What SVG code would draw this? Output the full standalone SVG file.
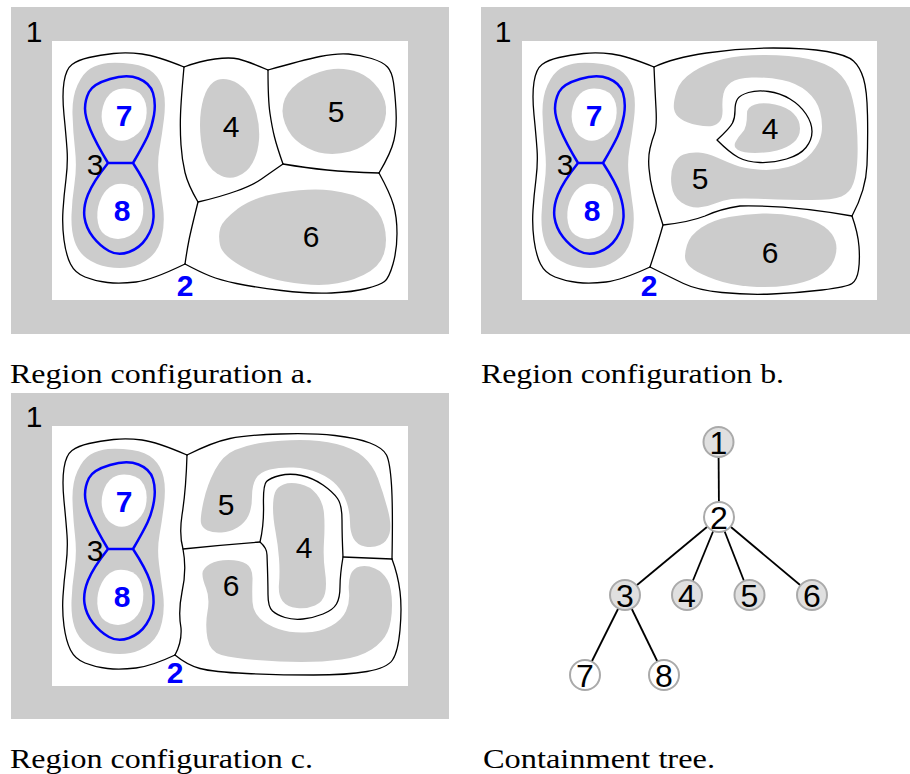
<svg xmlns="http://www.w3.org/2000/svg" width="910" height="774" viewBox="0 0 910 774">
<style>
.frame{fill:#cccccc}
.sheet{fill:#ffffff}
.blob{fill:#cccccc}
.hole{fill:#ffffff}
.edge{fill:none;stroke:#000000;stroke-width:1.3;stroke-linejoin:round;stroke-linecap:round}
.loop{fill:none;stroke:#0000ff;stroke-width:2.5;stroke-linejoin:round}
.num{font-family:"Liberation Sans",Arial,sans-serif;font-size:30px;fill:#000000;text-anchor:middle}
.tnum{font-family:"Liberation Sans",Arial,sans-serif;font-size:32px;fill:#000000;text-anchor:middle}
.bnum{font-family:"Liberation Sans",Arial,sans-serif;font-size:30px;font-weight:bold;fill:#0000ff;text-anchor:middle}
.cap{font-family:"Liberation Serif","Times New Roman",serif;font-size:28px;fill:#000000}
.tnode{stroke:#aaaaaa;stroke-width:2}
.full{fill:#e0e0e0}
.empty{fill:#ffffff}
.tlink{stroke:#000000;stroke-width:1.8}
</style>
<defs>
  <!-- region 3 with its two holes 7 and 8, shared by all three configurations -->
  <g id="cell3">
    <path class="blob" d="M108,63 Q118,62 132,64 Q146,66 153.5,73 Q161,80 163.5,91 Q166,102 164,118.5 Q162,135 159.5,149 Q157,163 159,178 Q161,193 163,207.5 Q165,222 162,236 Q159,250 150,257.5 Q141,265 130.5,267 Q120,269 108,267 Q96,265 87,258.5 Q78,252 74.5,241 Q71,230 71.5,215 Q72,200 74.5,183.5 Q77,167 75,149.5 Q73,132 72.5,114.5 Q72,97 77.5,85 Q83,73 90.5,68.5 Q98,64 108,63 Z"/>
    <path class="hole" d="M113,91.5 Q120,87 130,89 Q140,91 144,99 Q148,107 146,118.5 Q144,130 134,136.5 Q124,143 115.5,139.5 Q107,136 103.5,126.5 Q100,117 103,106.5 Q106,96 113,91.5 Z"/>
    <path class="hole" d="M110,187 Q117,182 127.5,184.5 Q138,187 141.5,197.5 Q145,208 142,219.5 Q139,231 129.5,236 Q120,241 110,237.5 Q100,234 98,223 Q96,212 99.5,202 Q103,192 110,187 Z"/>
    <path class="loop" d="M108,163 Q96,143 90.5,130 Q85,117 85,108.5 Q85,100 89,92 Q93,84 110,79 Q127,74 138.5,78.5 Q150,83 153,93 Q156,103 154,115 Q152,127 147.5,136.5 Q143,146 133,163 L108,163 Q93,182 88,194.5 Q83,207 84.5,217.5 Q86,228 93,237 Q100,246 109,251 Q118,256 129,252 Q140,248 146.5,238 Q153,228 153.5,217.5 Q154,207 150,195 Q146,183 133,163"/>
  </g>
</defs>

<!-- configuration a -->
<g id="config-a">
  <rect class="frame" x="11" y="7" width="438" height="327"/>
  <rect class="sheet" x="52" y="41" width="356" height="259"/>
  <use href="#cell3"/>
  <path class="blob" d="M203.5,98.5 Q207,87 213.5,82 Q220,77 230,80 Q240,83 246.5,91.5 Q253,100 256.5,113.5 Q260,127 259,140 Q258,153 252.5,163 Q247,173 237,176.5 Q227,180 217,173.5 Q207,167 203.5,153.5 Q200,140 200,125 Q200,110 203.5,98.5 Z"/>
  <path class="blob" d="M285,98.5 Q290,87 305,78.5 Q320,70 333.5,69 Q347,68 358.5,72.5 Q370,77 378.5,88.5 Q387,100 386,113.5 Q385,127 374,137.5 Q363,148 350,151.5 Q337,155 325,153.5 Q313,152 301.5,144.5 Q290,137 285,123.5 Q280,110 285,98.5 Z"/>
  <path class="blob" d="M220.5,227.5 Q223,220 238,208.5 Q253,197 281.5,192.5 Q310,188 331.5,190.5 Q353,193 366.5,201.5 Q380,210 384,225 Q388,240 384,253.5 Q380,267 363.5,275 Q347,283 328.5,284.5 Q310,286 285,281.5 Q260,277 241,266 Q222,255 220,245 Q218,235 220.5,227.5 Z"/>
  <path class="edge" d="M184,67 Q157,56 142,54 Q127,52 113.5,53.5 Q100,55 89,57.5 Q78,60 72,64.5 Q66,69 64,82 Q62,95 64,115 Q66,135 67,149 Q68,163 66,179 Q64,195 63,210 Q62,225 64,240 Q66,255 70.5,264 Q75,273 85,277 Q95,281 107.5,282.5 Q120,284 136,282 Q152,280 185,264"/>
  <path class="edge" d="M184,67 Q200,61 215,59 Q230,57 238.5,59 Q247,61 268,70"/>
  <path class="edge" d="M268,70 Q303,60 320,56.5 Q337,53 348.5,54 Q360,55 371.5,58.5 Q383,62 387.5,67 Q392,72 393.5,82.5 Q395,93 396,110 Q397,127 394,140 Q391,153 379,173"/>
  <path class="edge" d="M379,173 Q390,193 393.5,205 Q397,217 397,233.5 Q397,250 393,264 Q389,278 384.5,281.5 Q380,285 366.5,288.5 Q353,292 331.5,293 Q310,294 281.5,290.5 Q253,287 236.5,283.5 Q220,280 210,276 Q200,272 185,264"/>
  <path class="edge" d="M184,67 Q181,100 180.5,115 Q180,130 181,145 Q182,160 185,172.5 Q188,185 198,202 Q191,230 189,240 Q187,250 185,264"/>
  <path class="edge" d="M268,70 Q268,100 270,113.5 Q272,127 274.5,137 Q277,147 283,164"/>
  <path class="edge" d="M283,164 Q307,168 327,170 Q347,172 379,173"/>
  <path class="edge" d="M283,164 Q270,173 261.5,179 Q253,185 236.5,191 Q220,197 198,202"/>
  <text class="num" x="34" y="42">1</text>
  <text class="num" x="95" y="175">3</text>
  <text class="bnum" x="124" y="126">7</text>
  <text class="bnum" x="122" y="221">8</text>
  <text class="bnum" x="185" y="296">2</text>
  <text class="num" x="231" y="137">4</text>
  <text class="num" x="336" y="122">5</text>
  <text class="num" x="311" y="247">6</text>
</g>

<!-- configuration b -->
<g id="config-b">
  <rect class="frame" x="481" y="7" width="429" height="327"/>
  <rect class="sheet" x="522" y="41" width="355" height="259"/>
  <use href="#cell3" transform="translate(470,0)"/>
  <path class="blob" d="M674,109 Q673,103 676.5,91.5 Q680,80 693.5,71.5 Q707,63 723.5,59 Q740,55 765,55 Q790,55 808.5,59 Q827,63 837,71.5 Q847,80 851,93.5 Q855,107 856.5,123.5 Q858,140 857.5,156.5 Q857,173 853.5,183 Q850,193 841.5,196.5 Q833,200 811.5,200 Q790,200 765,199 Q740,198 731.5,199 Q723,200 715,203.5 Q707,207 698.5,207.5 Q690,208 681.5,202.5 Q673,197 671.5,185 Q670,173 673.5,165 Q677,157 683.5,154.5 Q690,152 698.5,152.5 Q707,153 717,157.5 Q727,162 735,165 Q743,168 758,169.5 Q773,171 788,167 Q803,163 811.5,153 Q820,143 821.5,133 Q823,123 820,111.5 Q817,100 807,91.5 Q797,83 782,80 Q767,77 752,77.5 Q737,78 731,82.5 Q725,87 723.5,93.5 Q722,100 722.5,108.5 Q723,117 720,121 Q717,125 712,126 Q707,127 697,125 Q687,123 681,119 Q675,115 674,109 Z"/>
  <path class="blob" d="M747,113.5 Q747,107 755,104.5 Q763,102 775,104.5 Q787,107 793.5,113.5 Q800,120 800,128.5 Q800,137 793.5,142.5 Q787,148 777,150.5 Q767,153 755,153 Q743,153 738,150 Q733,147 735.5,142 Q738,137 741.5,133.5 Q745,130 746,125 Q747,120 747,113.5 Z"/>
  <path class="blob" d="M685.5,260 Q684,255 687,245 Q690,235 701.5,227.5 Q713,220 729,217 Q745,214 762.5,213.5 Q780,213 797.5,216.5 Q815,220 824,226.5 Q833,233 835.5,241.5 Q838,250 834,260 Q830,270 817.5,276.5 Q805,283 787.5,285.5 Q770,288 750,286.5 Q730,285 715,279.5 Q700,274 693.5,269.5 Q687,265 685.5,260 Z"/>
  <path class="edge" d="M654,67 Q627,56 612,54 Q597,52 583.5,53.5 Q570,55 559,57.5 Q548,60 542,64.5 Q536,69 534,82 Q532,95 534,115 Q536,135 537,149 Q538,163 536,179 Q534,195 533,210 Q532,225 534,240 Q536,255 540.5,264 Q545,273 555,277 Q565,281 577.5,282.5 Q590,284 606,282 Q622,280 650,267"/>
  <path class="edge" d="M654,67 Q655,90 656,108.5 Q657,127 654.5,133.5 Q652,140 650,148.5 Q648,157 649,168.5 Q650,180 652.5,190 Q655,200 663,225 Q658,243 650,267"/>
  <path class="edge" d="M654,67 Q673,58 706.5,53 Q740,48 773.5,48 Q807,48 827,51.5 Q847,55 853.5,61 Q860,67 863.5,78.5 Q867,90 867.5,115 Q868,140 867,165 Q866,190 852,216"/>
  <path class="edge" d="M663,225 Q690,222 705,216 Q720,209 740,206 Q790,205 852,216"/>
  <path class="edge" d="M852,216 Q858,233 859,246.5 Q860,260 858.5,270 Q857,280 852,283.5 Q847,287 822,290 Q797,293 772,294 Q747,295 722,292.5 Q697,290 683.5,283.5 Q670,277 650,267"/>
  <path class="edge" d="M717,140 Q730,128 732.5,123 Q735,118 735,110.5 Q735,103 737.5,99 Q740,95 748.5,92.5 Q757,90 768.5,91.5 Q780,93 790,99 Q800,105 806,114 Q812,123 812,131.5 Q812,140 806,147.5 Q800,155 786.5,159 Q773,163 760,162.5 Q747,162 738.5,157.5 Q730,153 717,140 Z"/>
  <text class="num" x="503" y="42">1</text>
  <text class="num" x="565" y="175">3</text>
  <text class="bnum" x="594" y="126">7</text>
  <text class="bnum" x="592" y="221">8</text>
  <text class="bnum" x="649" y="296">2</text>
  <text class="num" x="770" y="139">4</text>
  <text class="num" x="700" y="189">5</text>
  <text class="num" x="770" y="263">6</text>
</g>

<!-- configuration c -->
<g id="config-c">
  <rect class="frame" x="11" y="393" width="438" height="326"/>
  <rect class="sheet" x="52" y="426" width="356" height="260"/>
  <use href="#cell3" transform="translate(0,386)"/>
  <path class="blob" d="M201,523 Q200,518 203.5,501.5 Q207,485 215,470 Q223,455 235,450 Q247,445 263.5,442.5 Q280,440 300,440 Q320,440 336.5,444 Q353,448 363,456.5 Q373,465 378,478.5 Q383,492 387.5,508.5 Q392,525 389.5,533.5 Q387,542 380,545 Q373,548 365,546.5 Q357,545 353.5,538.5 Q350,532 350,522 Q350,512 346.5,502 Q343,492 336.5,485 Q330,478 318.5,473 Q307,468 293.5,467.5 Q280,467 270,469.5 Q260,472 256,478.5 Q252,485 252,496.5 Q252,508 248.5,515.5 Q245,523 237.5,527.5 Q230,532 221.5,532.5 Q213,533 207.5,530.5 Q202,528 201,523 Z"/>
  <path class="blob" d="M202.5,573 Q203,568 210,564 Q217,560 228.5,560 Q240,560 246.5,564 Q253,568 252.5,580 Q252,592 252.5,602 Q253,612 260,618.5 Q267,625 278.5,629 Q290,633 305,632.5 Q320,632 331,626 Q342,620 346,611 Q350,602 349,592 Q348,582 350.5,575 Q353,568 360,566.5 Q367,565 375,568.5 Q383,572 387.5,580 Q392,588 392,605 Q392,622 387.5,632 Q383,642 371.5,649.5 Q360,657 341.5,659.5 Q323,662 301.5,662 Q280,662 256.5,660 Q233,658 221.5,655 Q210,652 207.5,638.5 Q205,625 207.5,611.5 Q210,598 206,588 Q202,578 202.5,573 Z"/>
  <path class="blob" d="M275,492.5 Q277,487 283.5,484.5 Q290,482 300,484 Q310,486 316.5,494 Q323,502 324,513.5 Q325,525 324,541.5 Q323,558 325,571.5 Q327,585 325,593.5 Q323,602 315,605.5 Q307,609 297,608 Q287,607 282.5,601 Q278,595 279,583.5 Q280,572 279,558.5 Q278,545 275.5,531.5 Q273,518 273,508 Q273,498 275,492.5 Z"/>
  <path class="edge" d="M187,455 Q157,442 142,440 Q127,438 113.5,439.5 Q100,441 89,443.5 Q78,446 72,450.5 Q66,455 64,468 Q62,481 64,501 Q66,521 67,535 Q68,549 66,565 Q64,581 63,596 Q62,611 64,626 Q66,641 70.5,650 Q75,659 85,663 Q95,667 107.5,668.5 Q120,670 136,668 Q152,666 175,655"/>
  <path class="edge" d="M187,455 Q186,490 182,515 Q179,535 183,549 Q187,570 182,592 Q178,612 181,628 Q182,642 175,655"/>
  <path class="edge" d="M187,455 Q213,442 230,438.5 Q247,435 280,434 Q313,433 335,435.5 Q357,438 370,443 Q383,448 386.5,455 Q390,462 391.5,485 Q393,508 392,559"/>
  <path class="edge" d="M183,549 Q220,545 260,542"/>
  <path class="edge" d="M260,542 Q264,525 263.5,505 Q263,485 266.5,481.5 Q270,478 280,475.5 Q290,473 301.5,475.5 Q313,478 323,485 Q333,492 337.5,498.5 Q342,505 342,520 Q342,535 343,557 Q340,575 340,586.5 Q340,598 336.5,604 Q333,610 323,614 Q313,618 303,619 Q293,620 285,617.5 Q277,615 272.5,611 Q268,607 268,594.5 Q268,582 267,555 Q267,548 260,542 Z"/>
  <path class="edge" d="M343,557 Q370,558 392,559"/>
  <path class="edge" d="M392,559 Q398,575 400,591.5 Q402,608 400,630 Q398,652 392.5,660 Q387,668 367,671.5 Q347,675 313.5,675 Q280,675 246.5,673.5 Q213,672 200,668.5 Q187,665 175,655"/>
  <text class="num" x="34" y="427">1</text>
  <text class="num" x="95" y="561">3</text>
  <text class="bnum" x="124" y="512">7</text>
  <text class="bnum" x="122" y="607">8</text>
  <text class="bnum" x="175" y="683">2</text>
  <text class="num" x="226" y="515">5</text>
  <text class="num" x="231" y="596">6</text>
  <text class="num" x="304" y="558">4</text>
</g>

<!-- containment tree -->
<g id="connectors">
  <line class="tlink" x1="718.5" y1="442" x2="719" y2="517"/>
  <line class="tlink" x1="719" y1="517" x2="625" y2="595"/>
  <line class="tlink" x1="719" y1="517" x2="687" y2="595"/>
  <line class="tlink" x1="719" y1="517" x2="749.5" y2="595"/>
  <line class="tlink" x1="719" y1="517" x2="812" y2="595"/>
  <line class="tlink" x1="625" y1="595" x2="585" y2="675"/>
  <line class="tlink" x1="625" y1="595" x2="664" y2="675"/>
</g>
<g id="node-1"><circle class="tnode full" cx="718.5" cy="442" r="15"/><text class="tnum" x="718.5" y="453.5">1</text></g>
<g id="node-2"><circle class="tnode empty" cx="719" cy="517" r="15"/><text class="tnum" x="719" y="528.5">2</text></g>
<g id="node-3"><circle class="tnode full" cx="625" cy="595" r="15"/><text class="tnum" x="625" y="606.5">3</text></g>
<g id="node-4"><circle class="tnode full" cx="687" cy="595" r="15"/><text class="tnum" x="687" y="606.5">4</text></g>
<g id="node-5"><circle class="tnode full" cx="749.5" cy="595" r="15"/><text class="tnum" x="749.5" y="606.5">5</text></g>
<g id="node-6"><circle class="tnode full" cx="812" cy="595" r="15"/><text class="tnum" x="812" y="606.5">6</text></g>
<g id="node-7"><circle class="tnode empty" cx="585" cy="675" r="15"/><text class="tnum" x="585" y="686.5">7</text></g>
<g id="node-8"><circle class="tnode empty" cx="664" cy="675" r="15"/><text class="tnum" x="664" y="686.5">8</text></g>

<!-- captions -->
<text class="cap" x="10" y="383" textLength="303" lengthAdjust="spacingAndGlyphs">Region configuration a.</text>
<text class="cap" x="481" y="383" textLength="303" lengthAdjust="spacingAndGlyphs">Region configuration b.</text>
<text class="cap" x="10" y="768" textLength="303" lengthAdjust="spacingAndGlyphs">Region configuration c.</text>
<text class="cap" x="483" y="768" textLength="232" lengthAdjust="spacingAndGlyphs">Containment tree.</text>
</svg>
